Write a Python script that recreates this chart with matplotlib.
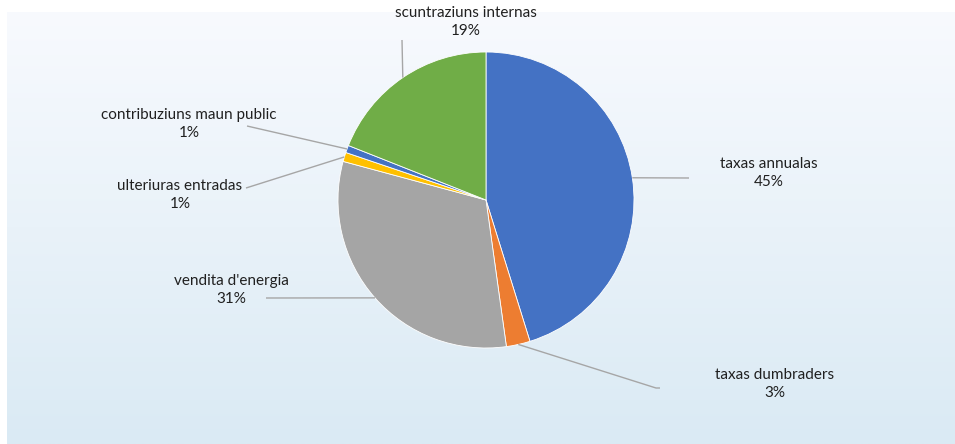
import numpy as np
import matplotlib
matplotlib.use("Agg")
import matplotlib.pyplot as plt

categories = ["taxas annualas", "taxas dumbraders", "vendita d'energia",
              "ulteriuras entradas", "contribuziuns maun public", "scuntraziuns internas"]
values = [45.2, 2.6, 31.4, 1.0, 0.8, 19.0]
pct_labels = ["45%", "3%", "31%", "1%", "1%", "19%"]
colors = ["#4472C4", "#ED7D31", "#A5A5A5", "#FFC000", "#4472C4", "#70AD47"]

W, H = 955, 444
fig = plt.figure(figsize=(W / 100, H / 100), dpi=100)
fig.patch.set_facecolor("white")

# gradient background panel
bg = fig.add_axes([7 / W, 0, 1 - 7 / W, 1 - 12 / H])
top = np.array([0xF8, 0xFA, 0xFE]) / 255
bot = np.array([0xDA, 0xEA, 0xF4]) / 255
t = np.linspace(0, 1, 256)[:, None]
grad = top[None, :] * (1 - t) + bot[None, :] * t
bg.imshow(grad[:, None, :].repeat(2, axis=1), aspect="auto", extent=[0, 1, 0, 1])
bg.set_axis_off()

ax = fig.add_axes([0, 0, 1, 1])
ax.set_xlim(0, W)
ax.set_ylim(0, H)
ax.set_aspect("equal")
ax.set_axis_off()
ax.patch.set_alpha(0)

cx, cy, r = 486, H - 200, 148
wedges, _ = ax.pie(values, colors=colors, startangle=90, counterclock=False,
                   center=(cx, cy), radius=r, frame=True,
                   wedgeprops=dict(edgecolor="white", linewidth=0.6))
ax.set_xlim(0, W)
ax.set_ylim(0, H)
ax.set_axis_off()

# label layout (pixel coords, y from top): text center, leader end
label_pos = [(769, 173), (775, 384), (231, 290), (180, 195), (189, 124), (466, 22)]
leader_end = [(689, 178), (660, 388), (266, 298), (246, 188), (247, 126), (402, 40)]
leader_knee = [None, (656, 388), None, None, None, None]

fontfam = ["Lato", "DejaVu Sans"]
for w, name, pct, lp, le, kn in zip(wedges, categories, pct_labels, label_pos, leader_end, leader_knee):
    ang = np.deg2rad((w.theta1 + w.theta2) / 2)
    px, py = cx + r * np.cos(ang), cy + r * np.sin(ang)
    xs = [px]
    ys = [py]
    if kn is not None:
        xs.append(kn[0]); ys.append(H - kn[1])
    xs.append(le[0]); ys.append(H - le[1])
    ax.plot(xs, ys, color="#A6A6A6", lw=1.0, solid_capstyle="butt")
    ax.text(lp[0], H - lp[1], name + "\n" + pct, ha="center", va="center",
            fontsize=11, color="#202020", family=fontfam, linespacing=1.45)

fig.savefig("out.png", dpi=100)
